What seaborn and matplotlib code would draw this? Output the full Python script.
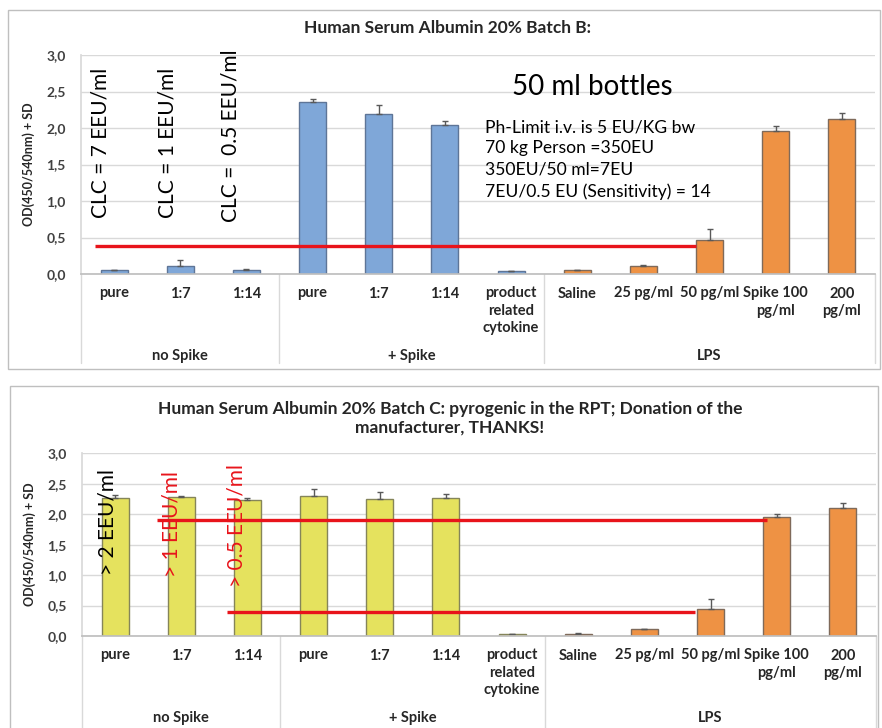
import numpy as np
import pandas as pd
import matplotlib
matplotlib.use("Agg")
import matplotlib.pyplot as plt
import matplotlib.transforms as mtransforms
from matplotlib.patches import Rectangle
import seaborn as sns

# category labels (two-level Excel style axis)
labels = ["pure", "1:7", "1:14", "pure", "1:7", "1:14", "product\nrelated\ncytokine",
          "Saline", "25 pg/ml", "50 pg/ml", "Spike 100\npg/ml", "200\npg/ml"]
groups = ["no Spike", "+ Spike", "LPS"]
group_sizes = [3, 4, 5]

# Batch B (top panel)
od_b = [0.05, 0.11, 0.06, 2.36, 2.19, 2.04, 0.045, 0.055, 0.11, 0.46, 1.96, 2.12]
sd_b = [0.01, 0.08, 0.005, 0.04, 0.12, 0.06, 0.0, 0.005, 0.01, 0.16, 0.07, 0.09]
series_b = ["sample"] * 7 + ["LPS"] * 5

# Batch C (bottom panel)
od_c = [2.26, 2.28, 2.23, 2.30, 2.25, 2.26, 0.04, 0.04, 0.11, 0.44, 1.96, 2.11]
sd_c = [0.05, 0.02, 0.04, 0.11, 0.11, 0.07, 0.0, 0.01, 0.01, 0.17, 0.05, 0.08]
series_c = ["sample"] * 7 + ["LPS"] * 5

# red limit lines: (level, x start, x end) in category units
limits_b = [(0.38, -0.29, 8.79)]
limits_c = [(1.90, 0.63, 9.86), (0.39, 1.69, 8.76)]

sns.set_theme(style="white")
plt.rcParams["font.family"] = ["Lato", "DejaVu Sans"]

fig = plt.figure(figsize=(8.82, 7.28), dpi=100)
W, H = 882, 728


def px_axes(l, r, t, b):
    return fig.add_axes([l / W, 1 - b / H, (r - l) / W, (b - t) / H])


def draw_panel(ax, od, sd, series, colors, edges, limits, label_bottom, group_y):
    df = pd.DataFrame({"key": [f"c{i}" for i in range(len(labels))],
                       "od": od, "series": series})
    sns.barplot(data=df, x="key", y="od", hue="series", palette=colors, saturation=1,
                dodge=False, width=0.41, legend=False, ax=ax, linewidth=1)
    # edge colours per series
    for patch in ax.patches:
        i = int(round(patch.get_x() + patch.get_width() / 2))
        if 0 <= i < len(series):
            patch.set_edgecolor(edges[series[i]])
    ax.errorbar(np.arange(len(od)), od, yerr=[np.zeros(len(sd)), sd], fmt="none",
                ecolor="#595959", elinewidth=1, capsize=2.5, capthick=1)
    for lvl, x0, x1 in limits:
        ax.plot([x0, x1], [lvl, lvl], color="#E8141B", lw=2.4, solid_capstyle="butt", zorder=5)

    ax.set_xlim(-0.5, len(labels) - 0.5)
    ax.set_ylim(0, 3.0)
    ticks = np.arange(0, 3.01, 0.5)
    ax.set_yticks(ticks)
    ax.set_yticklabels([f"{v:.1f}".replace(".", ",") for v in ticks],
                       fontweight="bold", fontsize=10, color="#404040")
    ax.set_xticks(range(len(labels)))
    ax.set_xticklabels(labels, fontweight="bold", fontsize=10.5, color="#262626",
                       linespacing=1.3, va="top")
    ax.tick_params(axis="both", length=0)
    ax.tick_params(axis="x", pad=9)
    ax.tick_params(axis="y", pad=11)
    ax.grid(axis="y", color="#D9D9D9", lw=1)
    ax.set_axisbelow(True)
    ax.set_xlabel("")
    ax.set_ylabel("OD(450/540nm) + SD", fontweight="bold", fontsize=9, color="#262626", labelpad=8)
    for s in ["top", "right"]:
        ax.spines[s].set_visible(False)
    ax.spines["left"].set_color("#D9D9D9")
    ax.spines["bottom"].set_color("#BFBFBF")

    trans = mtransforms.blended_transform_factory(ax.transData, ax.transAxes)
    edges_x = np.concatenate([[0], np.cumsum(group_sizes)]) - 0.5
    for xe in edges_x:
        ax.plot([xe, xe], [0, label_bottom], color="#D9D9D9", lw=1, transform=trans, clip_on=False)
    for g, a, b in zip(groups, edges_x[:-1], edges_x[1:]):
        ax.text((a + b) / 2, group_y, g, transform=trans, ha="center", va="center",
                fontweight="bold", fontsize=10.5, color="#262626")


# ---- top panel: Batch B ----
fig.patches.append(Rectangle((8 / W, 1 - 369 / H), 872 / W, 359 / H, transform=fig.transFigure,
                             fill=False, edgecolor="#BFBFBF", lw=1))
ax1 = px_axes(81, 875, 55, 274)
draw_panel(ax1, od_b, sd_b, series_b, {"sample": "#7FA7D8", "LPS": "#EE9244"},
           {"sample": "#5E7597", "LPS": "#7F6A5A"}, limits_b, -0.406, -0.374)
fig.text(448 / W, 1 - 28 / H, "Human Serum Albumin 20% Batch B:", ha="center", va="center",
         fontweight="bold", fontsize=12.5, color="#262626")
for txt, x, y in [("CLC = 7 EEU/ml", -0.2, 0.77), ("CLC = 1 EEU/ml", 0.80, 0.77),
                  ("CLC =  0.5 EEU/ml", 1.76, 0.71)]:
    ax1.text(x, y, txt, rotation=90, ha="center", va="bottom", fontsize=15, color="black")
ax1.text(7.23, 2.56, "50 ml bottles", ha="center", va="center", fontsize=20, color="black")
ax1.text(5.60, 2.12, "Ph-Limit i.v. is 5 EU/KG bw\n70 kg Person =350EU\n350EU/50 ml=7EU\n"
         "7EU/0.5 EU (Sensitivity) = 14", ha="left", va="top", fontsize=12.6,
         color="black", linespacing=1.4)

# ---- bottom panel: Batch C ----
fig.patches.append(Rectangle((10 / W, 1 - 740 / H), 868 / W, 354 / H, transform=fig.transFigure,
                             fill=False, edgecolor="#BFBFBF", lw=1))
ax2 = px_axes(82, 876, 453.3, 636)
draw_panel(ax2, od_c, sd_c, series_c, {"sample": "#E5E25E", "LPS": "#EE9244"},
           {"sample": "#85855A", "LPS": "#7F6A5A"}, limits_c, -0.6, -0.449)
fig.text(450 / W, 1 - 418 / H, "Human Serum Albumin 20% Batch C: pyrogenic in the RPT; Donation of the\n"
         "manufacturer, THANKS!", ha="center", va="center", fontweight="bold", fontsize=12.5,
         color="#262626", linespacing=1.2)
for txt, x, y, c in [("> 2 EEU/ml", -0.12, 1.0, "black"), ("> 1 EEU/ml", 0.86, 0.97, "#E8141B"),
                     ("> 0.5 EEU/ml", 1.84, 0.80, "#E8141B")]:
    ax2.text(x, y, txt, rotation=90, ha="center", va="bottom", fontsize=15, color=c)

fig.savefig("out.png", dpi=100)
